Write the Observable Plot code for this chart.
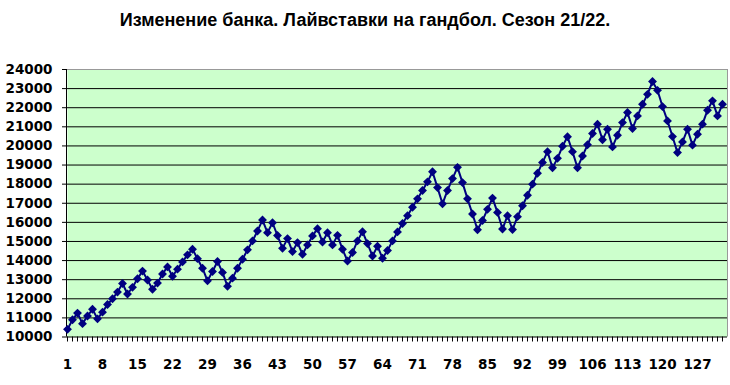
<!DOCTYPE html>
<html>
<head>
<meta charset="utf-8">
<script src="https://cdn.jsdelivr.net/npm/d3@7"></script>
<script src="https://cdn.jsdelivr.net/npm/@observablehq/plot@0.6"></script>
<style>
  html, body { margin: 0; padding: 0; background: #fff; }
  #title { width: 730px; height: 50px; box-sizing: border-box; padding-top: 9px; line-height: 22px;
    text-align: center; font-family: "Liberation Sans", Arial, sans-serif; font-weight: bold; font-size: 18px; color: #000; }
  svg { display: block; }
</style>
</head>
<body>
<div id="title">Изменение банка. Лайвставки на гандбол. Сезон 21/22.</div>
<div id="chart"></div>
<script>
const bank = [
  10400, 10900, 11250, 10700, 11100, 11450, 10950, 11300, 11700, 12000,
  12350, 12800, 12250, 12600, 13050, 13450, 12980, 12500, 12820, 13300,
  13670, 13180, 13550, 13930, 14300, 14590, 14100, 13600, 12940, 13430,
  13950, 13380, 12650, 13080, 13600, 14070, 14560, 15030, 15550, 16120,
  15460, 15980, 15310, 14640, 15150, 14470, 14940, 14330, 14820, 15290,
  15670, 14970, 15460, 14820, 15320, 14590, 13980, 14420, 15030, 15510,
  14890, 14240, 14750, 14120, 14530, 15030, 15500, 15940, 16350, 16790,
  17230, 17670, 18120, 18650, 17820, 16970, 17670, 18290, 18880, 18080,
  17230, 16440, 15610, 16100, 16680, 17270, 16520, 15650, 16350, 15620,
  16300, 16870, 17420, 18000, 18570, 19130, 19700, 18860, 19350, 19980,
  20480, 19700, 18860, 19470, 20060, 20650, 21140, 20320, 20870, 19950,
  20560, 21220, 21750, 20910, 21570, 22180, 22700, 23370, 22910, 22060,
  21310, 20490, 19650, 20210, 20870, 20040, 20610, 21140, 21870, 22360,
  21570, 22180
];
const games = bank.map((_, i) => i + 1);
const xTickLabels = [1, 8, 15, 22, 29, 36, 43, 50, 57, 64, 71, 78, 85, 92, 99, 106, 113, 120, 127];
const yTickLabels = [10000, 11000, 12000, 13000, 14000, 15000, 16000, 17000, 18000, 19000, 20000, 21000, 22000, 23000, 24000];

const data = games.map((g, i) => ({game: g, value: bank[i]}));
const xMax = games.length + 1;

const chart = Plot.plot({
  width: 730,
  height: 335,
  marginLeft: 67,
  marginRight: 3,
  marginTop: 19,
  marginBottom: 48.5,
  style: {fontFamily: "DejaVu Sans, Verdana, sans-serif", fontSize: "13.5px", fontWeight: "bold", color: "#000", background: "#fff"},
  x: {domain: [1, xMax]},
  y: {domain: [10000, 24000]},
  marks: [
    Plot.frame({fill: "#ccffcc", stroke: null}),
    Plot.ruleY(yTickLabels.slice(1, -1), {stroke: "#000", strokeWidth: 1}),
    Plot.ruleY([24000], {stroke: "#999", strokeWidth: 1}),
    Plot.ruleX([xMax], {stroke: "#999", strokeWidth: 1}),
    Plot.ruleY([10000], {stroke: "#000", strokeWidth: 1}),
    Plot.ruleX([1], {stroke: "#000", strokeWidth: 1, dx: -1}),
    Plot.axisY(yTickLabels, {tickSize: 5, tickPadding: 10, tickFormat: d => String(d), fontWeight: "bold", fontSize: 13.5, label: null}),
    Plot.axisX(games, {tickSize: 5, tickFormat: () => "", label: null}),
    Plot.axisX(xTickLabels, {tickSize: 0, tickPadding: 22, tickFormat: d => String(d), fontWeight: "bold", fontSize: 13.5, label: null}),
    Plot.line(data, {x: "game", y: "value", stroke: "#000080", strokeWidth: 2}),
    Plot.dot(data, {x: "game", y: "value", symbol: "diamond2", r: 4, fill: "#000080", stroke: null})
  ]
});
document.getElementById("chart").appendChild(chart);
</script>
</body>
</html>
